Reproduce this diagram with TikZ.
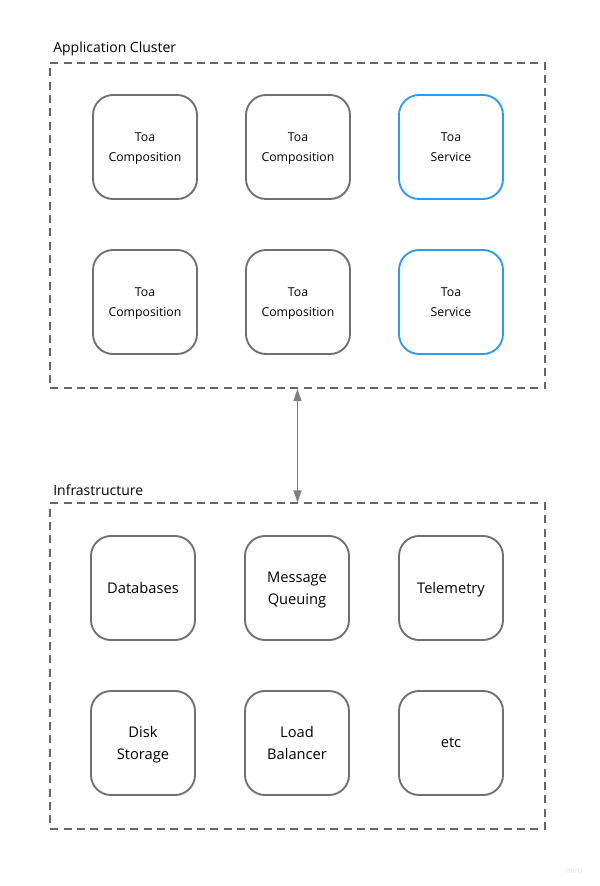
\documentclass[tikz,border=0pt]{standalone}
\usepackage{fontspec}
\setmainfont{Open Sans}
\usetikzlibrary{arrows.meta}

\definecolor{boxgray}{HTML}{707070}
\definecolor{dashgray}{HTML}{666666}
\definecolor{svcblue}{HTML}{2D9BF0}

\begin{document}
\begin{tikzpicture}[
        x=0.75pt, y=-0.75pt,
        comp/.style={draw=boxgray, line width=1.4pt, rounded corners=15pt,
                     minimum size=78pt, align=center, text depth=-1pt,
                     font=\fontsize{9.2}{15}\selectfont},
        svc/.style={comp, draw=svcblue},
        infra/.style={comp, font=\fontsize{11}{16.5}\selectfont},
        cluster/.style={draw=dashgray, line width=1.3pt,
                        dash pattern=on 6pt off 4pt,
                        minimum width=371pt, minimum height=244pt},
        title/.style={anchor=south west, inner sep=0pt, font=\fontsize{10.5}{12}\selectfont},
      ]
        \useasboundingbox (0,0) rectangle (600,886);

        % application cluster
        \node[cluster] (appbox) at (297.5,225.5) {};
        \node[title] (applab) at (53,56) {Application Cluster};
        \foreach \i/\x/\y/\sty/\lab in {
          1/145/147/comp/{Toa\\Composition},2/298/147/comp/{Toa\\Composition},
          3/451/147/svc/{Toa\\Service},
          4/145/302/comp/{Toa\\Composition},5/298/302/comp/{Toa\\Composition},
          6/451/302/svc/{Toa\\Service}} {
          \node[\sty] (app\i) at (\x,\y) {\lab};
        }

        % infrastructure
        \node[cluster] (infbox) at (297.5,666) {};
        \node[title] (inflab) at (53,496) {Infrastructure};
        \foreach \i/\x/\y/\lab in {
          1/143/588/{Databases},2/297/588/{Message\\Queuing},3/451/588/{Telemetry},
          4/143/743/{Disk\\Storage},5/297/743/{Load\\Balancer},6/451/743/{etc}} {
          \node[infra] (inf\i) at (\x,\y) {\lab};
        }

        \draw[draw=boxgray!90, line width=0.9pt,
              {Triangle[length=9pt,width=6pt]}-{Triangle[length=9pt,width=6pt]}]
          (appbox.south) -- (infbox.north);

        \node[text=black!12, font=\fontsize{6}{7}\selectfont] (mark) at (574,871) {miro};
      \end{tikzpicture}
\end{document}
